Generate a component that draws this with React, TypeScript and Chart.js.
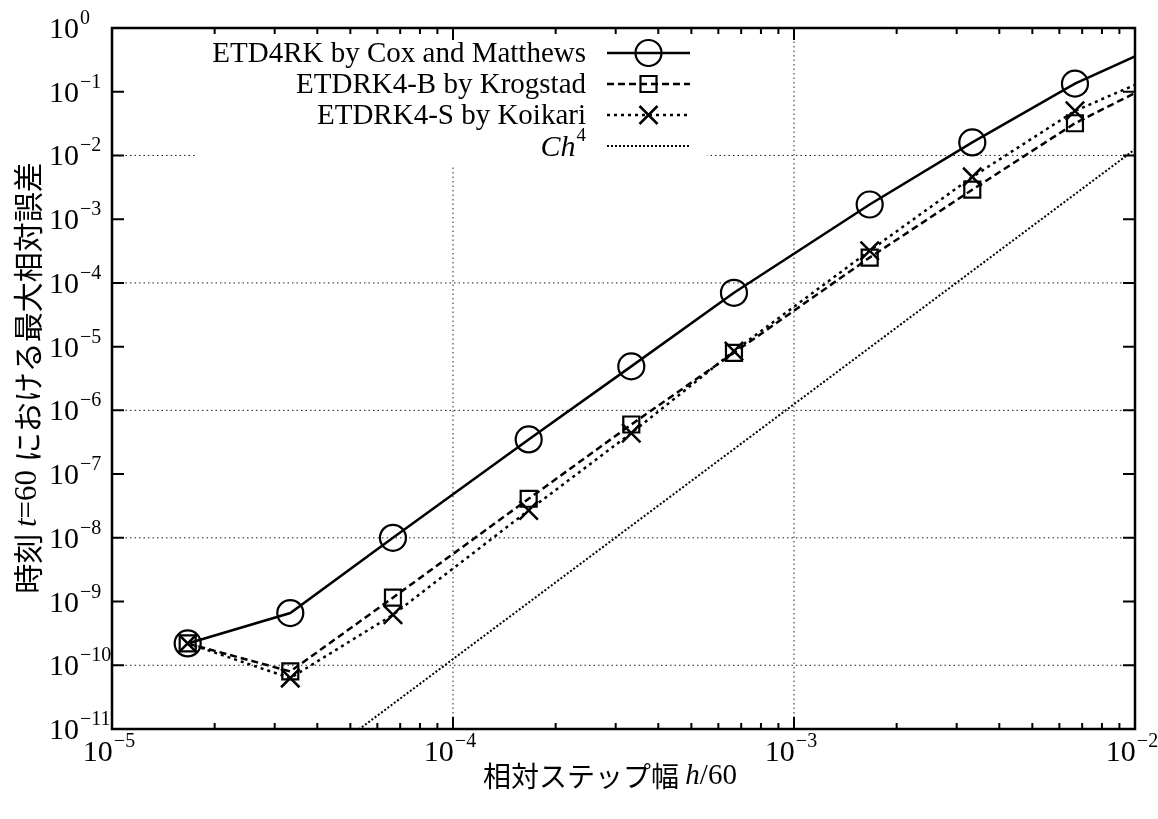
import React, { useEffect, useRef } from "react";
import { Chart, registerables } from "chart.js";

Chart.register(...registerables);

// ---- data ----
const stepSizes = [1.667e-5, 3.333e-5, 6.667e-5, 1.667e-4, 3.333e-4, 6.667e-4, 1.667e-3, 3.333e-3, 6.667e-3, 1.667e-2];
const coxMatthews = [2.2e-10, 6.6e-10, 1.0e-8, 3.5e-7, 4.9e-6, 7.0e-5, 1.7e-3, 1.6e-2, 1.34e-1, 1.25];
const krogstad = [2.2e-10, 8.0e-11, 1.15e-9, 4.1e-8, 6.0e-7, 8.0e-6, 2.5e-4, 2.9e-3, 3.2e-2, 0.38];
const koikari = [2.2e-10, 6.3e-11, 6.2e-10, 2.7e-8, 4.4e-7, 8.5e-6, 3.2e-4, 4.6e-3, 5.0e-2, 0.42];
const ch4X = [1e-5, 1e-2];
const ch4Y = [1.25e-14, 1.25e-2];

const seriesLabels = ["ETD4RK by Cox and Matthews", "ETDRK4-B by Krogstad", "ETDRK4-S by Koikari", "Ch4"];
const xTickExponents = [-5, -4, -3, -2];
const yTickExponents = [0, -1, -2, -3, -4, -5, -6, -7, -8, -9, -10, -11];
const xGridExponents = [-4, -3];
const yGridExponents = [-2, -4, -6, -8, -10];
const xTitleParts = ["相対ステップ幅 ", "h", "/60"];
const yTitleParts = ["時刻 ", "t", "=60 ", "における最大相対誤差"];

const SERIF = '"Liberation Serif", "Times New Roman", serif';
const CJK = '"Noto Sans CJK JP", sans-serif';

const styles = [
  { dash: [] as number[], width: 2.5, marker: "circle" },
  { dash: [7, 4], width: 2.5, marker: "rect" },
  { dash: [3, 4], width: 2.5, marker: "cross" },
  { dash: [2, 2], width: 2, marker: "none" },
];

function drawMarker(ctx: CanvasRenderingContext2D, kind: string, x: number, y: number) {
  ctx.save();
  ctx.setLineDash([]);
  ctx.strokeStyle = "#000";
  ctx.lineWidth = 2.2;
  ctx.beginPath();
  if (kind === "circle") {
    ctx.arc(x, y, 13, 0, Math.PI * 2);
  } else if (kind === "rect") {
    ctx.rect(x - 8, y - 8, 16, 16);
  } else if (kind === "cross") {
    ctx.lineWidth = 2.5;
    ctx.moveTo(x - 9, y - 9);
    ctx.lineTo(x + 9, y + 9);
    ctx.moveTo(x + 9, y - 9);
    ctx.lineTo(x - 9, y + 9);
  }
  ctx.stroke();
  ctx.restore();
}

function drawPow(ctx: CanvasRenderingContext2D, e: number, x: number, y: number, align: "left" | "center") {
  const base = "10";
  const ex = e === 0 ? "0" : "\u2212" + String(-e);
  ctx.font = `30px ${SERIF}`;
  const bw = ctx.measureText(base).width;
  ctx.font = `20px ${SERIF}`;
  const ew = ctx.measureText(ex).width;
  const start = align === "left" ? x : x - (bw + ew + 1) / 2;
  ctx.textAlign = "left";
  ctx.textBaseline = "alphabetic";
  ctx.font = `30px ${SERIF}`;
  ctx.fillText(base, start, y + 10);
  ctx.font = `20px ${SERIF}`;
  ctx.fillText(ex, start + bw + 1, y - 4);
}

const gnuplotPlugin = {
  id: "gnuplotLook",
  beforeDatasetsDraw(chart: any) {
    const { ctx, chartArea: a, scales } = chart;
    const xs = scales.x;
    const ys = scales.y;
    ctx.save();
    ctx.strokeStyle = "#222";
    ctx.lineWidth = 1;
    ctx.setLineDash([1.5, 3]);
    for (const e of xGridExponents) {
      const px = xs.getPixelForValue(Math.pow(10, e));
      ctx.beginPath();
      ctx.moveTo(px, a.top);
      ctx.lineTo(px, a.bottom);
      ctx.stroke();
    }
    for (const e of yGridExponents) {
      const py = ys.getPixelForValue(Math.pow(10, e));
      ctx.beginPath();
      ctx.moveTo(a.left, py);
      ctx.lineTo(a.right, py);
      ctx.stroke();
    }
    ctx.setLineDash([]);
    // opaque legend area
    ctx.fillStyle = "#fff";
    ctx.fillRect(195, a.top + 2, 707 - 195, 166 - a.top - 2);
    ctx.restore();
  },
  afterDraw(chart: any) {
    const { ctx, chartArea: a, scales } = chart;
    const xs = scales.x;
    const ys = scales.y;
    ctx.save();
    ctx.fillStyle = "#000";
    ctx.strokeStyle = "#000";

    // ticks
    ctx.lineWidth = 2;
    ctx.beginPath();
    for (const e of xTickExponents) {
      for (let m = 1; m <= 9; m++) {
        const v = m * Math.pow(10, e);
        if (v > 1.0001e-2) break;
        const px = xs.getPixelForValue(v);
        const len = m === 1 ? 12 : 6;
        ctx.moveTo(px, a.bottom);
        ctx.lineTo(px, a.bottom - len);
        ctx.moveTo(px, a.top);
        ctx.lineTo(px, a.top + len);
      }
    }
    for (const e of yTickExponents) {
      const py = ys.getPixelForValue(Math.pow(10, e));
      ctx.moveTo(a.left, py);
      ctx.lineTo(a.left + 12, py);
      ctx.moveTo(a.right, py);
      ctx.lineTo(a.right - 12, py);
    }
    ctx.stroke();

    // border
    ctx.lineWidth = 2.5;
    ctx.strokeRect(a.left, a.top, a.right - a.left, a.bottom - a.top);

    // tick labels
    for (const e of yTickExponents) {
      const py = ys.getPixelForValue(Math.pow(10, e));
      drawPow(ctx, e, 49, py, "left");
    }
    for (const e of xTickExponents) {
      const px = xs.getPixelForValue(Math.pow(10, e));
      drawPow(ctx, e, px - 3, a.bottom + 22, "center");
    }

    // legend
    const textRight = 586;
    const sx0 = 607;
    const sx1 = 690;
    for (let i = 0; i < seriesLabels.length; i++) {
      const ly = 53 + 31 * i;
      ctx.textBaseline = "middle";
      ctx.textAlign = "right";
      if (i < 3) {
        ctx.font = `29px ${SERIF}`;
        ctx.fillText(seriesLabels[i], textRight, ly + 1);
      } else {
        ctx.font = `19px ${SERIF}`;
        const w4 = ctx.measureText("4").width;
        ctx.textAlign = "left";
        ctx.fillText("4", textRight - w4, ly - 10);
        ctx.font = `italic 30px ${SERIF}`;
        ctx.textAlign = "right";
        ctx.fillText("Ch", textRight - w4 - 1, ly + 2);
      }
      const st = styles[i];
      ctx.save();
      ctx.lineWidth = st.width;
      ctx.setLineDash(st.dash);
      ctx.beginPath();
      ctx.moveTo(sx0, ly);
      ctx.lineTo(sx1, ly);
      ctx.stroke();
      ctx.restore();
      drawMarker(ctx, st.marker, (sx0 + sx1) / 2, ly);
    }

    // x title
    {
      const fonts = [`28px ${CJK}`, `italic 29px ${SERIF}`, `29px ${SERIF}`];
      let total = 0;
      const widths: number[] = [];
      xTitleParts.forEach((p, i) => {
        ctx.font = fonts[i];
        const w = ctx.measureText(p).width;
        widths.push(w);
        total += w;
      });
      let x = 610 - total / 2;
      ctx.textAlign = "left";
      ctx.textBaseline = "middle";
      xTitleParts.forEach((p, i) => {
        ctx.font = fonts[i];
        ctx.fillText(p, x, 776);
        x += widths[i];
      });
    }
    // y title
    {
      const fonts = [`30px ${CJK}`, `italic 31px ${SERIF}`, `31px ${SERIF}`, `30px ${CJK}`];
      let total = 0;
      const widths: number[] = [];
      yTitleParts.forEach((p, i) => {
        ctx.font = fonts[i];
        const w = ctx.measureText(p).width;
        widths.push(w);
        total += w;
      });
      ctx.save();
      ctx.translate(28, 378);
      ctx.rotate(-Math.PI / 2);
      let x = -total / 2;
      ctx.textAlign = "left";
      ctx.textBaseline = "middle";
      yTitleParts.forEach((p, i) => {
        ctx.font = fonts[i];
        ctx.fillText(p, x, 0);
        x += widths[i];
      });
      ctx.restore();
    }
    ctx.restore();
  },
};

function pts(xv: number[], yv: number[]) {
  return xv.map((x, i) => ({ x, y: yv[i] }));
}

export default function App() {
  const canvasRef = useRef<HTMLCanvasElement | null>(null);

  useEffect(() => {
    const canvas = canvasRef.current;
    if (!canvas) return;
    const chart = new Chart(canvas, {
      type: "line",
      data: {
        datasets: [
          {
            label: seriesLabels[0],
            data: pts(stepSizes, coxMatthews),
            borderColor: "#000",
            borderWidth: 2.5,
            pointStyle: "circle",
            pointRadius: 13,
            pointBorderWidth: 2.2,
            pointBorderColor: "#000",
            pointBackgroundColor: "rgba(0,0,0,0)",
            tension: 0,
            fill: false,
          },
          {
            label: seriesLabels[1],
            data: pts(stepSizes, krogstad),
            borderColor: "#000",
            borderWidth: 2.5,
            borderDash: [7, 4],
            pointStyle: "rect",
            pointRadius: 11.3,
            pointBorderWidth: 2.2,
            pointBorderColor: "#000",
            pointBackgroundColor: "rgba(0,0,0,0)",
            tension: 0,
            fill: false,
          },
          {
            label: seriesLabels[2],
            data: pts(stepSizes, koikari),
            borderColor: "#000",
            borderWidth: 2.5,
            borderDash: [3, 4],
            pointStyle: "crossRot",
            pointRadius: 13,
            pointBorderWidth: 2.5,
            pointBorderColor: "#000",
            pointBackgroundColor: "rgba(0,0,0,0)",
            tension: 0,
            fill: false,
          },
          {
            label: seriesLabels[3],
            data: pts(ch4X, ch4Y),
            borderColor: "#000",
            borderWidth: 2,
            borderDash: [2, 2],
            pointRadius: 0,
            tension: 0,
            fill: false,
          },
        ],
      },
      options: {
        responsive: false,
        animation: false,
        events: [],
        layout: { padding: { left: 112, top: 28, right: 23, bottom: 90 } },
        plugins: {
          legend: { display: false },
          tooltip: { enabled: false },
          title: { display: false },
        },
        scales: {
          x: { type: "logarithmic", min: 1e-5, max: 1e-2, display: false },
          y: { type: "logarithmic", min: 1e-11, max: 1, display: false },
        },
      },
      plugins: [gnuplotPlugin],
    });
    return () => chart.destroy();
  }, []);

  return (
    <div style={{ position: "absolute", left: 0, top: 0, width: 1158, height: 819, background: "#fff" }}>
      <canvas ref={canvasRef} width={1158} height={819} style={{ display: "block" }} />
    </div>
  );
}
